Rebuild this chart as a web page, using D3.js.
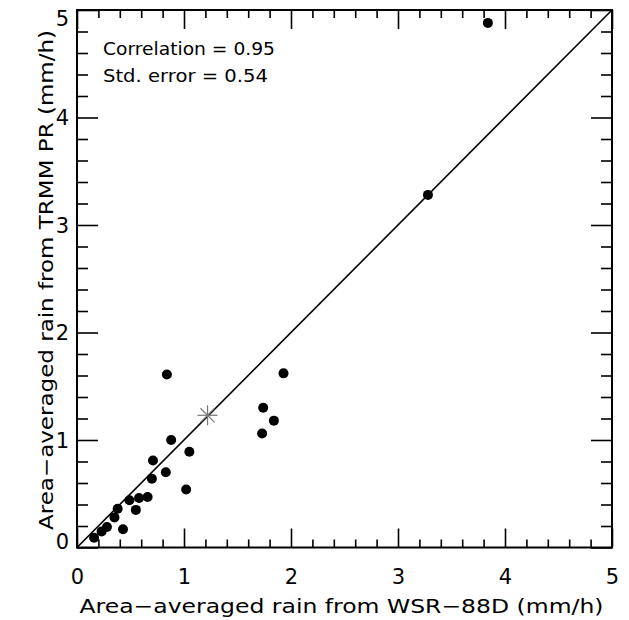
<!DOCTYPE html>
<html>
<head>
<meta charset="utf-8">
<script src="https://cdn.jsdelivr.net/npm/d3@7"></script>
<style>
  body { margin: 0; background: #fff; }
  svg text { font-family: "DejaVu Sans", "Liberation Sans", sans-serif; fill: #000; }
</style>
</head>
<body>
<div id="chart"></div>
<script>
// Data_________________________________________________________
const wsrRain  = [0.16, 0.23, 0.28, 0.43, 0.35, 0.38, 0.55, 0.49, 0.58, 0.66, 0.70, 0.71,
                  0.83, 1.02, 0.88, 1.05, 0.84, 1.73, 1.74, 1.84, 1.93, 3.28, 3.84];
const trmmRain = [0.09, 0.15, 0.19, 0.17, 0.28, 0.36, 0.35, 0.44, 0.46, 0.47, 0.64, 0.81,
                  0.70, 0.54, 1.00, 0.89, 1.61, 1.06, 1.30, 1.18, 1.62, 3.28, 4.88];
const meanPoint = [1.22, 1.23];
const majorTicks = [0, 1, 2, 3, 4, 5];
const minorTicks = d3.range(0, 26).map(i => i / 5).filter(v => v % 1 !== 0);
const statLines = ['Correlation = 0.95', 'Std. error = 0.54'];
const xTitle = 'Area\u2212averaged rain from WSR\u221288D (mm/h)';
const yTitle = 'Area\u2212averaged rain from TRMM PR (mm/h)';

// Layout_______________________________________________________
const width = 629, height = 620;
const margin = { left: 77, top: 10, right: 17, bottom: 72.5 };
const plotW = width - margin.left - margin.right;
const plotH = height - margin.top - margin.bottom;

const svg = d3.select('#chart').append('svg')
    .attr('width', width)
    .attr('height', height);

const g = svg.append('g')
    .attr('transform', `translate(${margin.left},${margin.top})`);

const x = d3.scaleLinear().domain([0, 5]).range([0, plotW]);
const y = d3.scaleLinear().domain([0, 5]).range([plotH, 0]);

// Axes (ticks inside on all four sides)_______________________
function drawAxis(axis, transform, cls) {
    const a = g.append('g').attr('class', cls).attr('transform', transform).call(axis);
    a.select('.domain').remove();
    a.selectAll('line').attr('stroke', '#000').attr('stroke-width', 1.6);
    a.selectAll('text').style('font-size', '21px').style('font-family', '"DejaVu Sans", sans-serif');
    return a;
}

drawAxis(d3.axisBottom(x).tickValues(majorTicks).tickSize(-19).tickPadding(22).tickFormat(d3.format('d')),
    `translate(0,${plotH})`, 'x-major');
drawAxis(d3.axisBottom(x).tickValues(minorTicks).tickSize(-8).tickFormat(''),
    `translate(0,${plotH})`, 'x-minor');
drawAxis(d3.axisTop(x).tickValues(majorTicks).tickSize(-19).tickFormat(''), null, 'x2-major');
drawAxis(d3.axisTop(x).tickValues(minorTicks).tickSize(-8).tickFormat(''), null, 'x2-minor');

const yMaj = drawAxis(d3.axisLeft(y).tickValues(majorTicks).tickSize(-21).tickPadding(8).tickFormat(d3.format('d')),
    null, 'y-major');
// end labels are nudged inward, as in the original
yMaj.selectAll('text').attr('dy', d => d === 5 ? '0.75em' : d === 0 ? '0.05em' : '0.35em');
drawAxis(d3.axisLeft(y).tickValues(minorTicks).tickSize(-11).tickFormat(''), null, 'y-minor');
drawAxis(d3.axisRight(y).tickValues(majorTicks).tickSize(-21).tickFormat(''),
    `translate(${plotW},0)`, 'y2-major');
drawAxis(d3.axisRight(y).tickValues(minorTicks).tickSize(-11).tickFormat(''),
    `translate(${plotW},0)`, 'y2-minor');

// Frame
g.append('rect')
    .attr('width', plotW)
    .attr('height', plotH)
    .attr('fill', 'none')
    .attr('stroke', '#000')
    .attr('stroke-width', 2);

// 1:1 line
g.append('line')
    .attr('x1', x(0)).attr('y1', y(0))
    .attr('x2', x(5)).attr('y2', y(5))
    .attr('stroke', '#000')
    .attr('stroke-width', 1.6);

// Points
g.selectAll('circle.pt')
    .data(wsrRain.map((v, i) => [v, trmmRain[i]]))
    .enter()
    .append('circle')
    .attr('class', 'pt')
    .attr('cx', d => x(d[0]))
    .attr('cy', d => y(d[1]))
    .attr('r', 5)
    .attr('fill', '#000');

// Mean marker (asterisk)
const star = g.append('g')
    .attr('transform', `translate(${x(meanPoint[0])},${y(meanPoint[1])})`);
[0, 45, 90, 135].forEach(angle => {
    const r = 10, a = angle * Math.PI / 180;
    star.append('line')
        .attr('x1', -r * Math.cos(a)).attr('y1', -r * Math.sin(a))
        .attr('x2', r * Math.cos(a)).attr('y2', r * Math.sin(a))
        .attr('stroke', '#777')
        .attr('stroke-width', 1.2);
});

// Stats text
g.selectAll('text.stat')
    .data(statLines)
    .enter()
    .append('text')
    .attr('class', 'stat')
    .attr('x', 26)
    .attr('y', (d, i) => 45 + i * 26.5)
    .style('font-size', '18px')
    .attr('textLength', (d, i) => i === 0 ? 172 : 165)
    .attr('lengthAdjust', 'spacingAndGlyphs')
    .text(d => d);

// Axis titles
svg.append('text')
    .attr('x', margin.left + plotW / 2 - 3)
    .attr('y', 613)
    .attr('text-anchor', 'middle')
    .style('font-size', '20px')
    .attr('textLength', 524)
    .attr('lengthAdjust', 'spacingAndGlyphs')
    .text(xTitle);

svg.append('text')
    .attr('transform', 'translate(53,280) rotate(-90)')
    .attr('text-anchor', 'middle')
    .style('font-size', '20px')
    .attr('textLength', 500)
    .attr('lengthAdjust', 'spacingAndGlyphs')
    .text(yTitle);
</script>
</body>
</html>
